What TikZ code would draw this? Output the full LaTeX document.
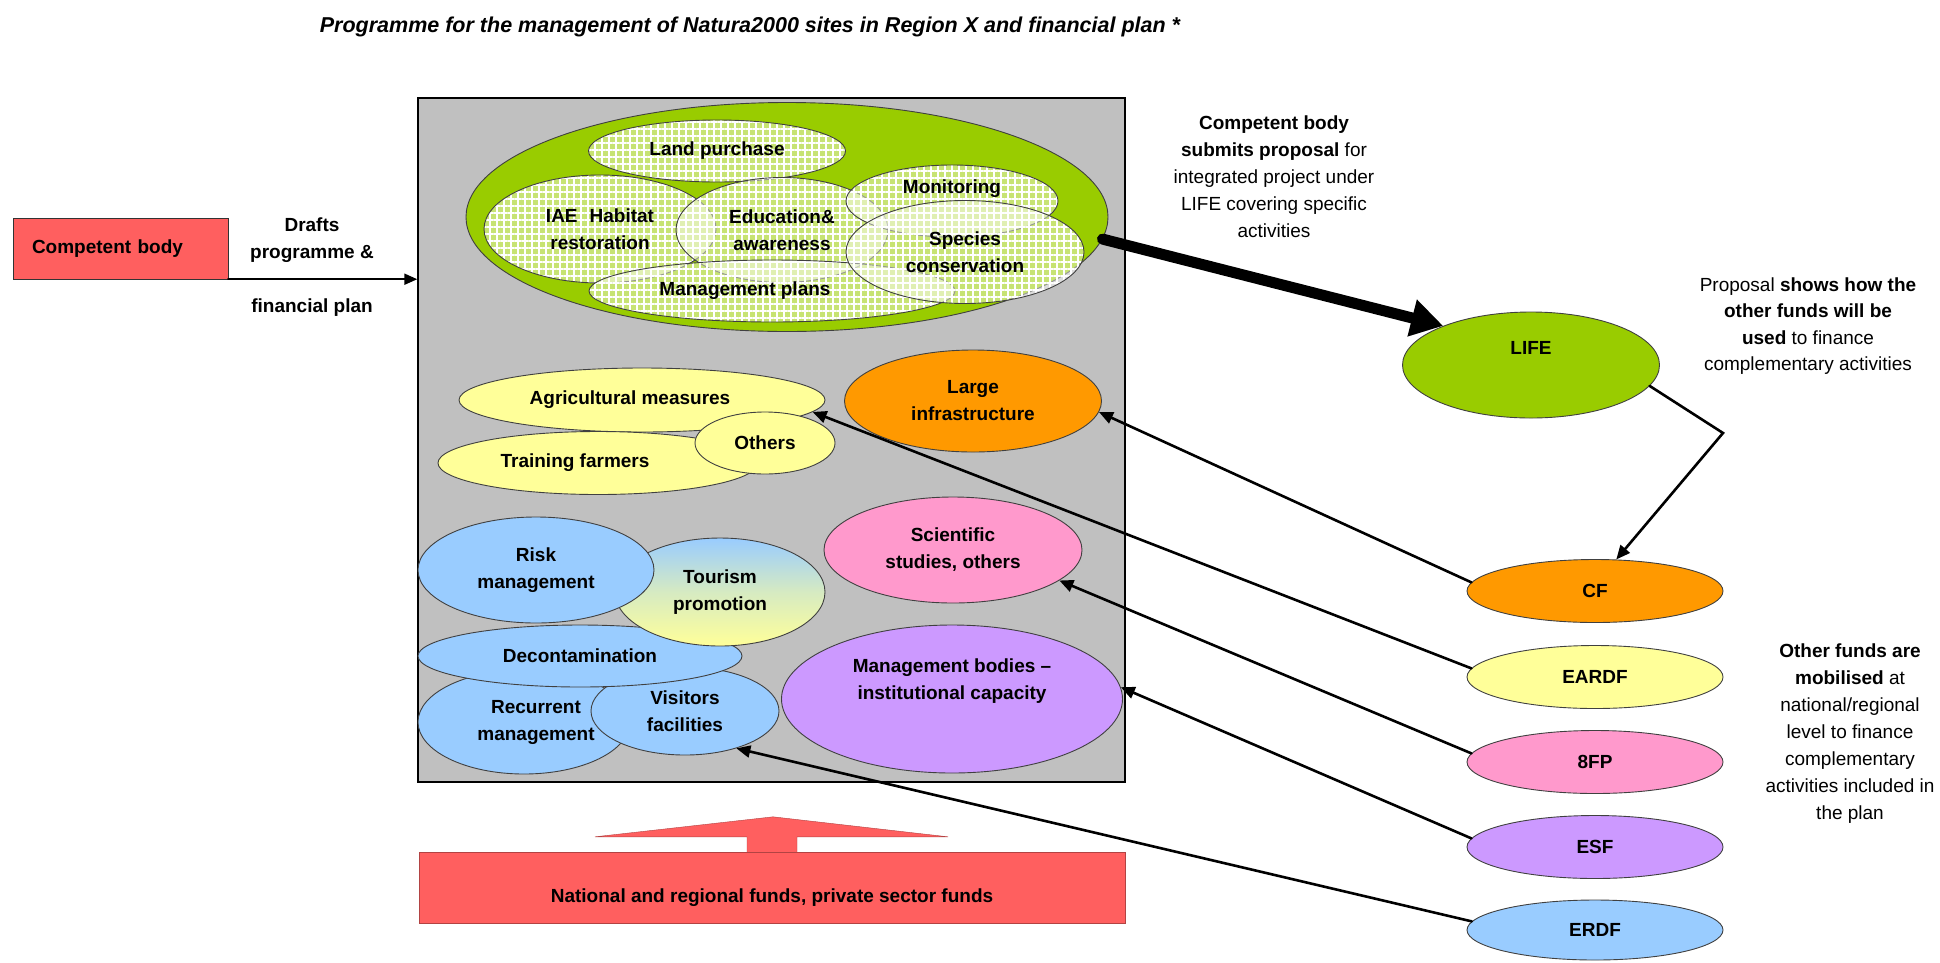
\documentclass[tikz,border=0pt]{standalone}
\usepackage{fontspec}
\setmainfont{Liberation Sans}
\usepackage{tikz}
\usetikzlibrary{shapes.geometric,arrows.meta,patterns.meta,calc}

\definecolor{cbred}{RGB}{255,95,95}
\definecolor{planGray}{RGB}{192,192,192}
\definecolor{lifegreen}{RGB}{153,204,0}
\definecolor{orangeell}{RGB}{255,153,0}
\definecolor{yellowell}{RGB}{255,255,153}
\definecolor{pinkell}{RGB}{255,153,204}
\definecolor{purpleell}{RGB}{204,153,255}
\definecolor{blueell}{RGB}{153,204,255}

\begin{document}
\begin{tikzpicture}[x=1pt,y=-1pt,line cap=round,
  every node/.style={font=\fontsize{19}{27}\selectfont\bfseries},
  ell/.style={ellipse,draw=black!75,line width=.9pt,inner sep=0pt,align=center},
  innerell/.style={ell,preaction={fill=white,fill opacity=.45},
    pattern={Hatch[angle=0,distance=7pt,line width=1.1pt]},pattern color=white,
    fill opacity=.5,text opacity=1},
  feed/.style={line width=2.6pt,-{Triangle[length=14pt,width=12pt]}}]
  \useasboundingbox (0,0) rectangle (1940,962);

  % --- title ---
  \node[font=\fontsize{21.5}{26}\selectfont\bfseries\itshape] (title) at (750,27)
    {Programme for the management of Natura2000 sites in Region X and financial plan *};

  % --- competent body and programme box ---
  \node[draw=black!80,fill=cbred,minimum width=215,minimum height=61,text width=177,
        inner xsep=19pt,align=left] (cb) at (120.5,248.5) {Competent body};
  \node[draw=black,line width=1.4pt,fill=planGray,minimum width=707,minimum height=684,
        inner sep=0pt] (plan) at (771.5,440) {};
  \draw[line width=2pt,-{Triangle[length=13pt,width=11pt]}] (cb.south east) -- (cb.south east -| plan.west);
  \node[align=center] (drafts) at (312,240) {Drafts\\programme \&};
  \node (finplan) at (312,308) {financial plan};

  % --- LIFE activities ---
  \node[ell,fill=lifegreen,minimum width=642,minimum height=229] (green) at (787,217) {};
  \node[innerell,minimum width=257,minimum height=62] (land) at (717,151) {Land purchase};
  \node[innerell,minimum width=232,minimum height=108] (iae) at (600,229) {IAE\hspace{12pt}Habitat\\restoration};
  \node[innerell,minimum width=212,minimum height=105] (edu) at (782,230) {Education\&\\awareness};
  \node[innerell,minimum width=366,minimum height=62,
        label={[xshift=-27pt]center:Management plans}] (mplans) at (772,291) {};
  \node[innerell,minimum width=212,minimum height=72,
        label={[yshift=12pt]center:Monitoring}] (monit) at (952,201) {};
  \node[innerell,minimum width=238,minimum height=103] (species) at (965,252) {Species\\conservation};

  % --- agriculture ---
  \node[ell,fill=yellowell,minimum width=366,minimum height=64,
        label={[xshift=-12pt]center:Agricultural measures}] (agri) at (642,400) {};
  \node[ell,fill=yellowell,minimum width=320,minimum height=63,
        label={[xshift=-23pt]center:Training farmers}] (train) at (598,463) {};
  \node[ell,fill=yellowell,minimum width=140,minimum height=62] (others) at (765,443) {Others};

  % --- infrastructure, research, bodies ---
  \node[ell,fill=orangeell,minimum width=257,minimum height=102] (largeinf) at (973,401) {Large\\infrastructure};
  \node[ell,fill=pinkell,minimum width=258,minimum height=106] (sci) at (953,550) {Scientific\\studies, others};
  \node[ell,fill=purpleell,minimum width=341,minimum height=148,
        label={[yshift=18pt,align=center]center:Management bodies --\\institutional capacity}] (mgmt) at (952,699) {};

  % --- regional development ---
  \node[ell,fill=blueell,minimum width=212,minimum height=104,
        label={[xshift=12pt,align=center]center:Recurrent\\management}] (recur) at (524,722) {};
  \node[ell,fill=blueell,minimum width=188,minimum height=88] (visit) at (685,711) {Visitors\\facilities};
  \node[ell,fill=blueell,minimum width=324,minimum height=62] (decon) at (580,656) {Decontamination};
  \node[ell,top color=blueell,bottom color=yellowell,middle color=yellowell!60!blueell,
        minimum width=210,minimum height=108] (tour) at (720,592) {Tourism\\promotion};
  \node[ell,fill=blueell,minimum width=236,minimum height=106] (risk) at (536,570) {Risk\\management};

  % --- national funds ---
  \node[fill=cbred,draw=cbred!70!black,minimum width=706,minimum height=71,inner sep=0pt,
        label={[yshift=-10pt]center:National and regional funds, private sector funds}] (natfunds) at (772,887.5) {};
  \coordinate (stem) at (natfunds.north);
  \draw[fill=cbred,draw=cbred!70!black] ($(stem)+(-25,0)$) -- ++(0,-15) -- ++(-152,0)
    -- ($(stem)+(1,-35)$) -- ($(stem)+(176,-15)$) -- ($(stem)+(25,-15)$) -- ($(stem)+(25,0)$);

  % --- funds ---
  \node[ell,fill=lifegreen,minimum width=257,minimum height=106,
        label={[yshift=17pt]center:LIFE}] (life) at (1531,365) {};
  \node[ell,fill=orangeell,minimum width=256,minimum height=63] (cf) at (1595,591) {CF};
  \node[ell,fill=yellowell,minimum width=256,minimum height=63] (eardf) at (1595,677) {EARDF};
  \node[ell,fill=pinkell,minimum width=256,minimum height=63] (fp) at (1595,762) {8FP};
  \node[ell,fill=purpleell,minimum width=256,minimum height=63] (esf) at (1595,847) {ESF};
  \node[ell,fill=blueell,minimum width=256,minimum height=60] (erdf) at (1595,930) {ERDF};

  % --- notes ---
  \node[align=center,font=\fontsize{19}{27}\selectfont] (submit) at (1274,177)
    {\textbf{Competent body}\\\textbf{submits proposal} for\\integrated project under\\LIFE covering specific\\activities};
  \node[align=center,font=\fontsize{19}{26.5}\selectfont] (shows) at (1808,326)
    {Proposal \textbf{shows how the}\\\textbf{other funds will be}\\\textbf{used} to finance\\complementary activities};
  \node[align=center,font=\fontsize{19}{27}\selectfont] (mobil) at (1850,734)
    {\textbf{Other funds are}\\\textbf{mobilised} at\\national/regional\\level to finance\\complementary\\activities included in\\the plan};

  % --- connectors ---
  \draw[line width=11pt,-{Triangle[length=32pt,width=36pt]}] (green.-4) -- (life.156);
  \coordinate (bend) at (1723,433);
  \draw[feed] (life.-10) -- (bend) -- (cf.56);
  \draw[feed] (cf.176) -- (largeinf.-5);
  \draw[feed] (eardf.176) -- (agri.-4);
  \draw[feed] (fp.176) -- (sci.-16);
  \draw[feed] (esf.176) -- (mgmt.4);
  \draw[feed] (erdf.176) -- (visit.-36);
\end{tikzpicture}
\end{document}
